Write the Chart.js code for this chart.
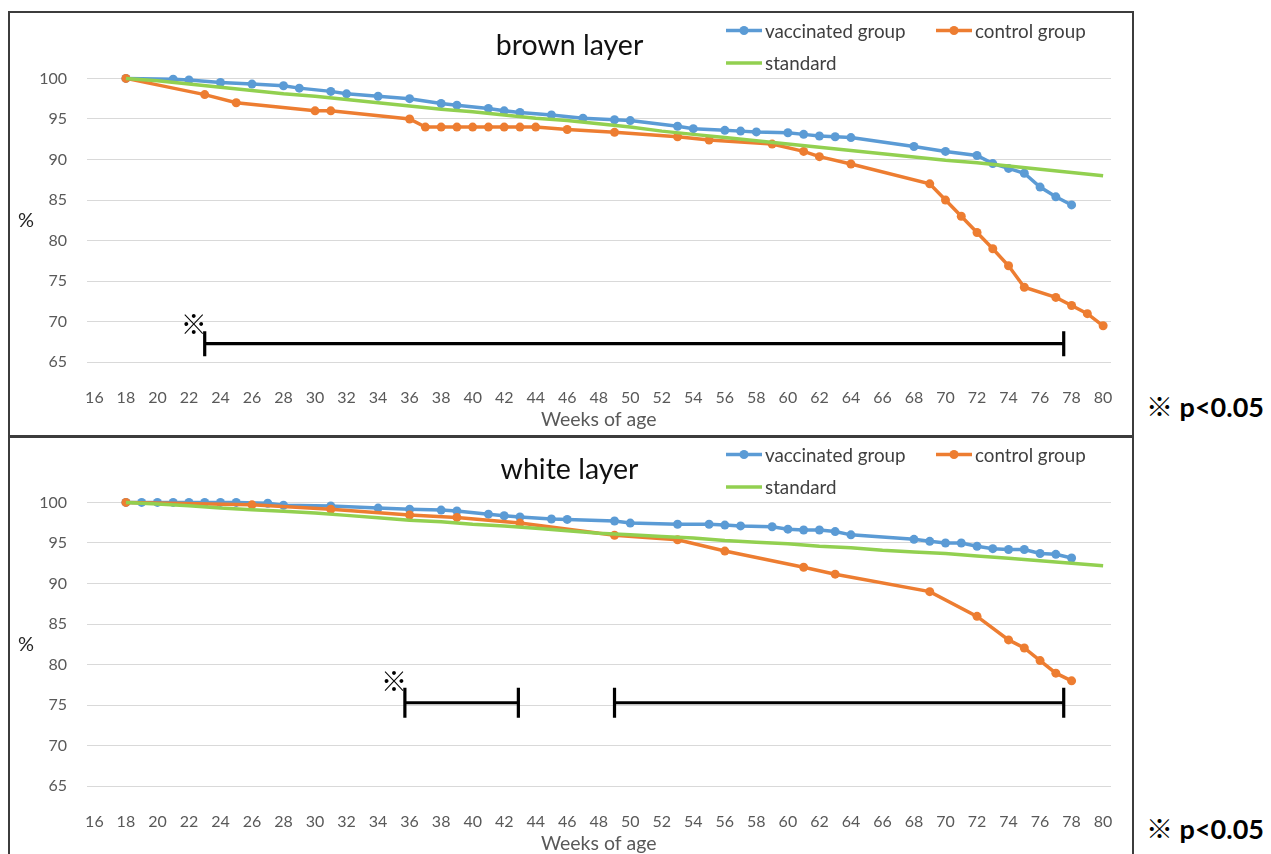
<!DOCTYPE html>
<html>
<head>
<meta charset="utf-8">
<script src="https://cdn.jsdelivr.net/npm/chart.js@4.4.1/dist/chart.umd.min.js"></script>
<style>
  html, body { margin:0; padding:0; background:#ffffff; }
  body { width:1271px; height:854px; overflow:hidden; position:relative; font-family: Lato, "Noto Sans CJK JP", sans-serif; }
  canvas.chart { position:absolute; left:10px; }
  #c1 { top:13px; }
  #c2 { top:437px; }
  .panel { position:absolute; left:8px; width:1126px; border:2px solid #3c3c3c; box-sizing:border-box; pointer-events:none; }
  #p1 { top:11px; height:426px; }
  #p2 { top:436px; height:440px; }
  .note { position:absolute; left:1146px; font-size:27px; font-weight:700; color:#000; line-height:30px; white-space:nowrap; }
  #n1 { top:392px; }
  #n2 { top:814px; }
</style>
</head>
<body>
<canvas id="c1" class="chart" width="1122" height="430"></canvas>
<canvas id="c2" class="chart" width="1122" height="430"></canvas>
<div id="p1" class="panel"></div>
<div id="p2" class="panel"></div>
<div id="n1" class="note">※ p&lt;0.05</div>
<div id="n2" class="note">※ p&lt;0.05</div>
<script>
// ---------- data ----------
const weekTicks = [16,18,20,22,24,26,28,30,32,34,36,38,40,42,44,46,48,50,52,54,56,58,60,62,64,66,68,70,72,74,76,78,80];
const yTicks = [65,70,75,80,85,90,95,100];
const seriesNames = ['vaccinated group', 'control group', 'standard'];

const brownVaccWeeks = [18,21,22,24,26,28,29,31,32,34,36,38,39,41,42,43,45,47,49,50,53,54,56,57,58,60,61,62,63,64,68,70,72,73,74,75,76,77,78];
const brownVacc      = [100,99.9,99.8,99.5,99.3,99.1,98.8,98.4,98.1,97.8,97.5,96.9,96.7,96.3,96.0,95.8,95.5,95.1,94.9,94.8,94.1,93.8,93.6,93.5,93.4,93.3,93.1,92.9,92.8,92.7,91.6,91.0,90.5,89.5,88.9,88.3,86.6,85.4,84.4];
const brownCtrlWeeks = [18,23,25,30,31,36,37,38,39,40,41,42,43,44,46,49,53,55,59,61,62,64,69,70,71,72,73,74,75,77,78,79,80];
const brownCtrl      = [100,98,97,96,96,95,94,94,94,94,94,94,94,94,93.7,93.35,92.8,92.4,91.9,91.0,90.35,89.45,87.0,85.0,83.0,81.0,79.0,76.9,74.25,73.0,72.0,71.0,69.5];
const stdWeeks       = [18,20,22,24,26,28,30,32,34,36,38,40,42,44,46,48,50,52,54,56,58,60,62,64,66,68,70,72,74,76,78,80];
const brownStd       = [100,99.7,99.3,98.9,98.5,98.1,97.8,97.4,97.0,96.6,96.2,95.9,95.5,95.1,94.8,94.4,94.0,93.5,93.1,92.7,92.3,91.9,91.5,91.1,90.7,90.3,89.9,89.6,89.2,88.8,88.4,88.0];

const whiteVaccWeeks = [18,19,20,21,22,23,24,25,27,28,31,34,36,38,39,41,42,43,45,46,49,50,53,55,56,57,59,60,61,62,63,64,68,69,70,71,72,73,74,75,76,77,78];
const whiteVacc      = [100,100,100,100,100,100,100,100,99.9,99.65,99.55,99.3,99.15,99.05,98.95,98.55,98.35,98.2,97.95,97.9,97.7,97.45,97.3,97.3,97.2,97.1,97.0,96.7,96.6,96.6,96.4,96.0,95.45,95.2,95.0,95.0,94.6,94.3,94.2,94.2,93.7,93.6,93.15];
const whiteCtrlWeeks = [18,26,31,36,39,43,49,53,56,61,63,69,72,74,75,76,77,78];
const whiteCtrl      = [100,99.7,99.15,98.45,98.15,97.45,95.95,95.4,94.0,92.0,91.15,89.0,85.95,83.05,82.05,80.5,78.95,78.0];
const whiteStd       = [100,99.8,99.6,99.3,99.1,98.9,98.7,98.4,98.1,97.8,97.6,97.3,97.1,96.8,96.5,96.2,96.0,95.8,95.6,95.3,95.1,94.9,94.6,94.4,94.1,93.9,93.7,93.4,93.1,92.8,92.5,92.2];

// significance ranges (weeks) and bar level (%)
const brownSigStart = [23];
const brownSigEnd   = [77.5];
const brownSigLevel = 67.3;
const whiteSigStart = [35.7, 49];
const whiteSigEnd   = [42.9, 77.5];
const whiteSigLevel = 75.3;

// ---------- styling ----------
const FONT = 'Lato, "Noto Sans CJK JP", sans-serif';
Chart.defaults.font.family = FONT;
const COLORS = ['#5B9BD5', '#ED7D31', '#92D050'];

function pts(w, v) { return w.map((x, i) => ({ x: x, y: v[i] })); }

const overlay = {
  id: 'overlay',
  afterDraw(chart, args, o) {
    const { ctx, chartArea, scales: { x, y } } = chart;
    ctx.save();
    // significance bars
    ctx.strokeStyle = '#000';
    ctx.lineWidth = 3.2;
    const yy = y.getPixelForValue(o.sigLevel);
    o.sigStart.forEach((s, i) => {
      const x1 = x.getPixelForValue(s), x2 = x.getPixelForValue(o.sigEnd[i]);
      ctx.beginPath();
      ctx.moveTo(x1, yy); ctx.lineTo(x2, yy);
      ctx.moveTo(x1, yy - o.cap); ctx.lineTo(x1, yy + o.cap);
      ctx.moveTo(x2, yy - o.cap); ctx.lineTo(x2, yy + o.cap);
      ctx.stroke();
    });
    ctx.fillStyle = '#000';
    ctx.font = '500 26px "Noto Sans CJK JP"';
    ctx.textAlign = 'center';
    ctx.textBaseline = 'middle';
    ctx.fillText('※', x.getPixelForValue(o.sigStart[0]) - 11, yy - o.cap - 7);
    // y axis title
    ctx.fillStyle = '#262626';
    ctx.font = '20px ' + FONT;
    ctx.fillText('%', 16, (chartArea.top + chartArea.bottom) / 2);
    // legend
    ctx.textAlign = 'left';
    ctx.font = '18.8px ' + FONT;
    chart.data.datasets.forEach((ds, i) => {
      const [lx, ly] = o.legendPos[i];
      ctx.strokeStyle = ds.borderColor;
      ctx.lineWidth = 3.5;
      ctx.beginPath(); ctx.moveTo(lx, ly); ctx.lineTo(lx + 36, ly); ctx.stroke();
      if (ds.pointRadius > 0) {
        ctx.fillStyle = ds.borderColor;
        ctx.beginPath(); ctx.arc(lx + 18, ly, 4.5, 0, Math.PI * 2); ctx.fill();
      }
      ctx.fillStyle = '#404040';
      ctx.fillText(ds.label, lx + 39, ly + 1);
    });
    ctx.restore();
  }
};

function makeChart(id, title, vw, vv, cw, cv, sv, sigStart, sigEnd, sigLevel, cap) {
  const mk = (i, data, radius, order) => ({
    label: seriesNames[i], data: data,
    borderColor: COLORS[i], backgroundColor: COLORS[i],
    pointBackgroundColor: COLORS[i], pointBorderWidth: 0,
    borderWidth: 3.5, pointRadius: radius, pointHoverRadius: radius,
    tension: 0, clip: false, order: order
  });
  return new Chart(document.getElementById(id), {
    type: 'line',
    data: {
      datasets: [
        mk(0, pts(vw, vv), 4.5, 3),
        mk(1, pts(cw, cv), 4.5, 2),
        mk(2, pts(stdWeeks, sv), 0, 1)
      ]
    },
    options: {
      responsive: false, animation: false, devicePixelRatio: 1,
      layout: { padding: { left: 18, right: 21, top: 0, bottom: 0 } },
      plugins: {
        legend: { display: false },
        tooltip: { enabled: false },
        title: {
          display: true, text: title, color: '#111',
          font: { size: 28.5, weight: 'normal' }, padding: { top: 16.2, bottom: 15 }
        },
        overlay: { sigStart, sigEnd, sigLevel, cap,
          legendPos: [[716, 17.5], [926, 17.5], [716, 50]] }
      },
      scales: {
        x: {
          type: 'linear', min: 15.5, max: 80.5,
          afterBuildTicks: s => { s.ticks = weekTicks.map(v => ({ value: v })); },
          afterFit: s => { s.height = 80.7; },
          grid: { display: false }, border: { display: false },
          ticks: { color: '#595959', font: { size: 16 }, padding: 18, maxRotation: 0, autoSkip: false,
                   callback: v => String(v) },
          title: { display: true, text: 'Weeks of age', color: '#595959', font: { size: 19.5 },
                   padding: { top: 0, bottom: 12 } }
        },
        y: {
          type: 'linear', min: 65, max: 100,
          afterBuildTicks: s => { s.ticks = yTicks.map(v => ({ value: v })); },
          afterFit: s => { s.width = 58.5; },
          grid: { color: '#D9D9D9', lineWidth: 1, drawTicks: false }, border: { display: false },
          ticks: { color: '#595959', font: { size: 16 }, padding: 19.5 }
        }
      }
    },
    plugins: [overlay]
  });
}

makeChart('c1', 'brown layer', brownVaccWeeks, brownVacc, brownCtrlWeeks, brownCtrl, brownStd,
          brownSigStart, brownSigEnd, brownSigLevel, 12.5);
makeChart('c2', 'white layer', whiteVaccWeeks, whiteVacc, whiteCtrlWeeks, whiteCtrl, whiteStd,
          whiteSigStart, whiteSigEnd, whiteSigLevel, 15);
</script>
</body>
</html>
